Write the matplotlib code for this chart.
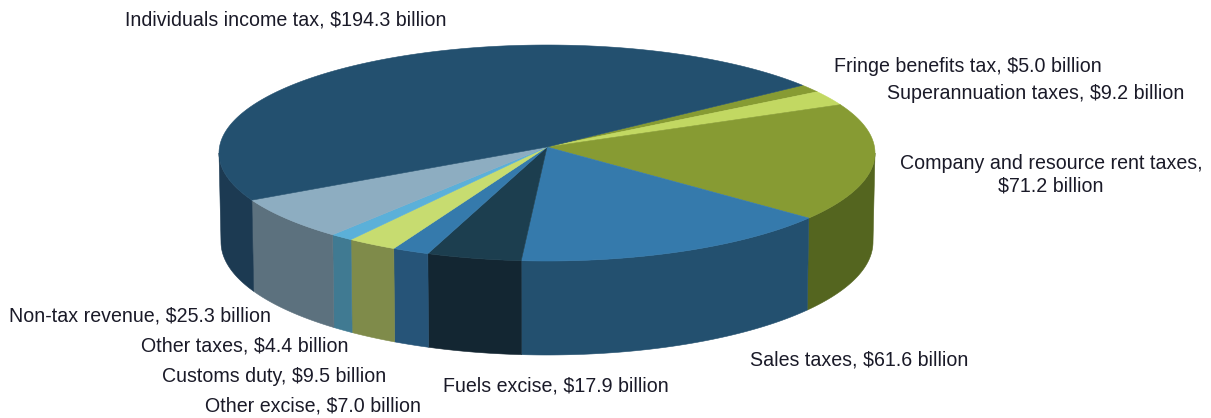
import numpy as np
import matplotlib
matplotlib.use("Agg")
import matplotlib.pyplot as plt
from matplotlib.patches import Polygon

# Clockwise from the Individuals / Fringe boundary
categories = ["Fringe benefits tax", "Superannuation taxes", "Company and resource rent taxes",
              "Sales taxes", "Fuels excise", "Other excise", "Customs duty", "Other taxes",
              "Non-tax revenue", "Individuals income tax"]
values = [5.0, 9.2, 71.2, 61.6, 17.9, 7.0, 9.5, 4.4, 25.3, 194.3]
top_colors = ["#879B33", "#C2D862", "#879B33", "#357AAC", "#1C3E4F", "#357AAC",
              "#C7DC70", "#5BB0D9", "#8DADC1", "#23506F"]
side_colors = ["#54651F", "#7F8F40", "#54651F", "#23506F", "#132632", "#265478",
               "#7F8B4A", "#407A92", "#5C717E", "#1C3A52"]
label_x = [834, 887, 1051, 750, 443, 205, 162, 141, 9, 125]
label_y = [66.5, 93.5, 174.5, 360.5, 386.5, 406.5, 376.5, 345.5, 316.5, 19.5]
label_ha = ["left", "left", "center", "left", "left", "left", "left", "left", "left", "left"]

W, H = 1211, 418
fig = plt.figure(figsize=(W / 100, H / 100), dpi=100)
ax = fig.add_axes([0, 0, 1, 1])
ax.set_xlim(0, W)
ax.set_ylim(H, 0)
ax.axis("off")

plt.rcParams["font.family"] = ["Liberation Sans", "DejaVu Sans"]
TOP = (547.0, 153.0, 328.0, 108.0)
BOT = (547.0, 242.0, 326.0, 113.0)
APEX = (547.0, 147.0)
START = 37.5


def warp(theta):
    """Perspective of the tilted disc: front slices look larger."""
    return theta + 3.3 * np.cos(np.radians(theta)) - 1.3


def pt(ell, phi):
    r = np.radians(phi)
    return np.column_stack([ell[0] + ell[2] * np.cos(r), ell[1] - ell[3] * np.sin(r)])


vals = np.array(values, dtype=float)
cum = np.concatenate([[0], np.cumsum(vals)]) / vals.sum() * 360
edges = START - cum

# walls first
for i in range(len(vals)):
    a0, a1 = warp(edges[i]), warp(edges[i + 1])
    for shift in (0, -360, 360):
        lo = max(a1 + shift, -180)
        hi = min(a0 + shift, 0)
        if hi > lo:
            ph = np.linspace(hi, lo, 80)
            poly = np.vstack([pt(TOP, ph), pt(BOT, ph[::-1])])
            ax.add_patch(Polygon(poly, closed=True, fc=side_colors[i], ec=side_colors[i], lw=0.4, zorder=2))

# top faces
for i in range(len(vals)):
    a0, a1 = warp(edges[i]), warp(edges[i + 1])
    ph = np.linspace(a0, a1, 200)
    poly = np.vstack([[APEX], pt(TOP, ph)])
    ax.add_patch(Polygon(poly, closed=True, fc=top_colors[i], ec=top_colors[i], lw=0.4, zorder=3))

for name, v, x, y, ha in zip(categories, values, label_x, label_y, label_ha):
    if name.startswith("Company"):
        txt = f"{name},\n${v:.1f} billion"
    else:
        txt = f"{name}, ${v:.1f} billion"
    ax.text(x, y, txt, ha=ha, va="center", fontsize=14.15, color="#1A1A28",
            family=["Liberation Sans", "DejaVu Sans"], linespacing=1.25, zorder=5,
            multialignment="center")

fig.savefig("out.png", dpi=100, facecolor="white")
